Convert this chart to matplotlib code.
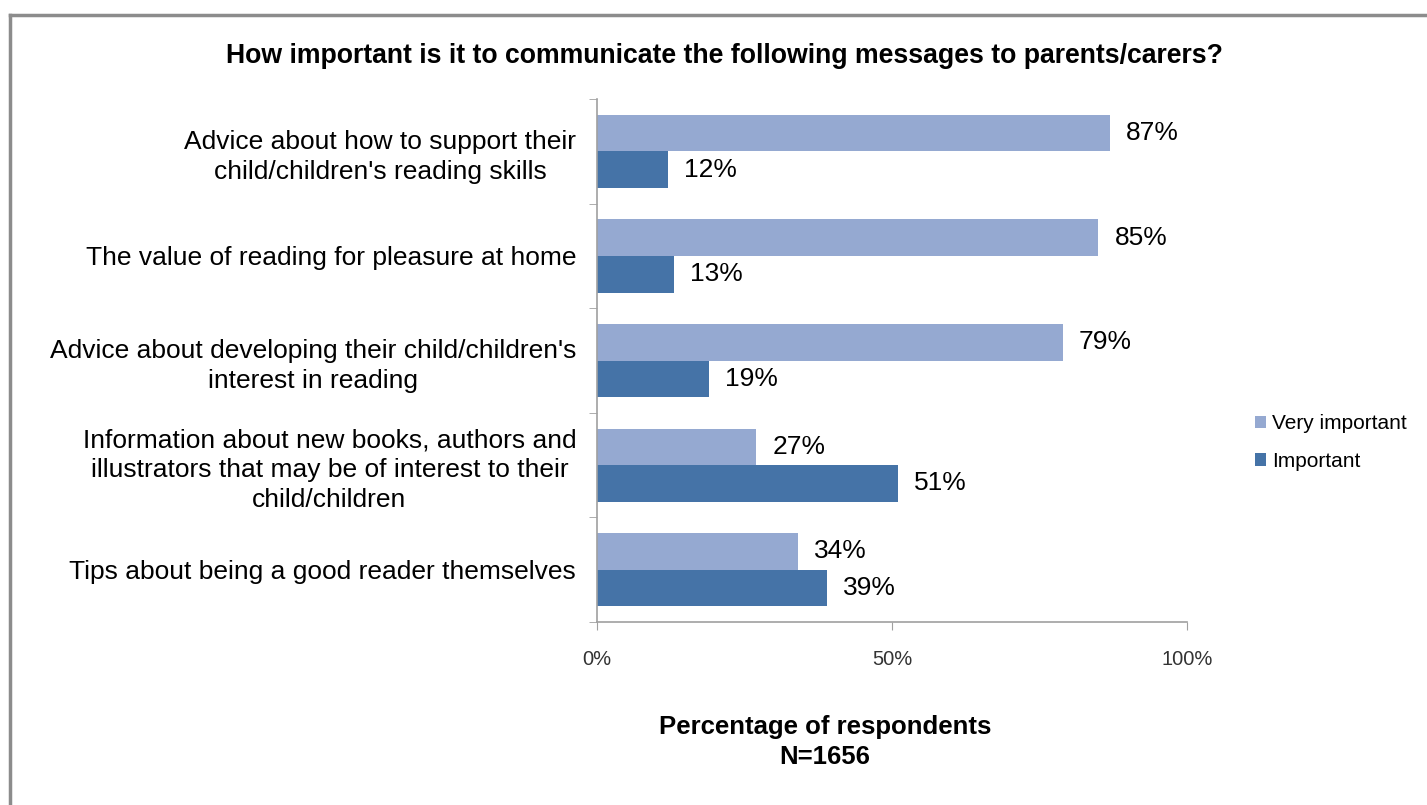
import numpy as np
import matplotlib
matplotlib.use("Agg")
import matplotlib.pyplot as plt
from matplotlib.lines import Line2D

plt.rcParams['font.family'] = ['Liberation Sans', 'DejaVu Sans']

# donnees
categories = [
    "Advice about how to support their\nchild/children's reading skills",
    "The value of reading for pleasure at home",
    "Advice about developing their child/children's\ninterest in reading",
    "Information about new books, authors and\nillustrators that may be of interest to their\nchild/children",
    "Tips about being a good reader themselves",
]
tres_important = [87, 85, 79, 27, 34]
important = [12, 13, 19, 51, 39]
couleurs = ["#95A9D1", "#4573A7"]

fig = plt.figure(figsize=(14.27, 8.05), dpi=100)
ax = fig.add_axes([0.4184, 0.2273, 0.4134, 0.6497])

y = np.arange(len(categories))
h = 0.35
ax.barh(y - h/2, tres_important, height=h, color=couleurs[0], label="Very important")
ax.barh(y + h/2, important, height=h, color=couleurs[1], label="Important")

for i in range(len(categories)):
    ax.text(tres_important[i] + 2.7, y[i] - h/2, str(tres_important[i]) + "%",
            va="center", ha="left", fontsize=19)
    ax.text(important[i] + 2.7, y[i] + h/2, str(important[i]) + "%",
            va="center", ha="left", fontsize=19)

ax.set_ylim(len(categories) - 0.5, -0.5)
ax.set_xlim(0, 100)
ax.set_yticks(y)
ax.set_yticklabels(categories, fontsize=19, linespacing=1.3, ha="right", multialignment="center")
ax.tick_params(axis="y", length=0, pad=15)
ax.set_yticks(np.arange(len(categories) + 1) - 0.5, minor=True)
ax.tick_params(axis="y", which="minor", length=6, color="#A0A0A0", direction="out")
ax.set_xticks([0, 50, 100])
ax.set_xticklabels(["0%", "50%", "100%"], fontsize=14.5, color="#333333")
ax.tick_params(axis="x", length=6, color="#A0A0A0", pad=14)
for s in ["top", "right"]:
    ax.spines[s].set_visible(False)
for s in ["left", "bottom"]:
    ax.spines[s].set_color("#A0A0A0")
    ax.spines[s].set_linewidth(1.2)

fig.text(0.508, 0.931, "How important is it to communicate the following messages to parents/carers?",
         ha="center", va="center", fontsize=19.2, fontweight="bold")
fig.text(0.578, 0.0785, "Percentage of respondents\nN=1656", ha="center", va="center",
         fontsize=18.5, fontweight="bold", linespacing=1.3)

fig.legend(loc="center left", bbox_to_anchor=(0.866, 0.45), frameon=False, fontsize=15,
           handlelength=0.55, handleheight=0.55, handletextpad=0.3, labelspacing=0.9)

# cadre gris en haut et a gauche
fig.add_artist(Line2D([0.007, 0.007], [0.0, 0.9815], color="#8C8C8C", lw=2.5))
fig.add_artist(Line2D([0.007, 1.0], [0.9815, 0.9815], color="#8C8C8C", lw=2.5))

fig.savefig("out.png", dpi=100)
